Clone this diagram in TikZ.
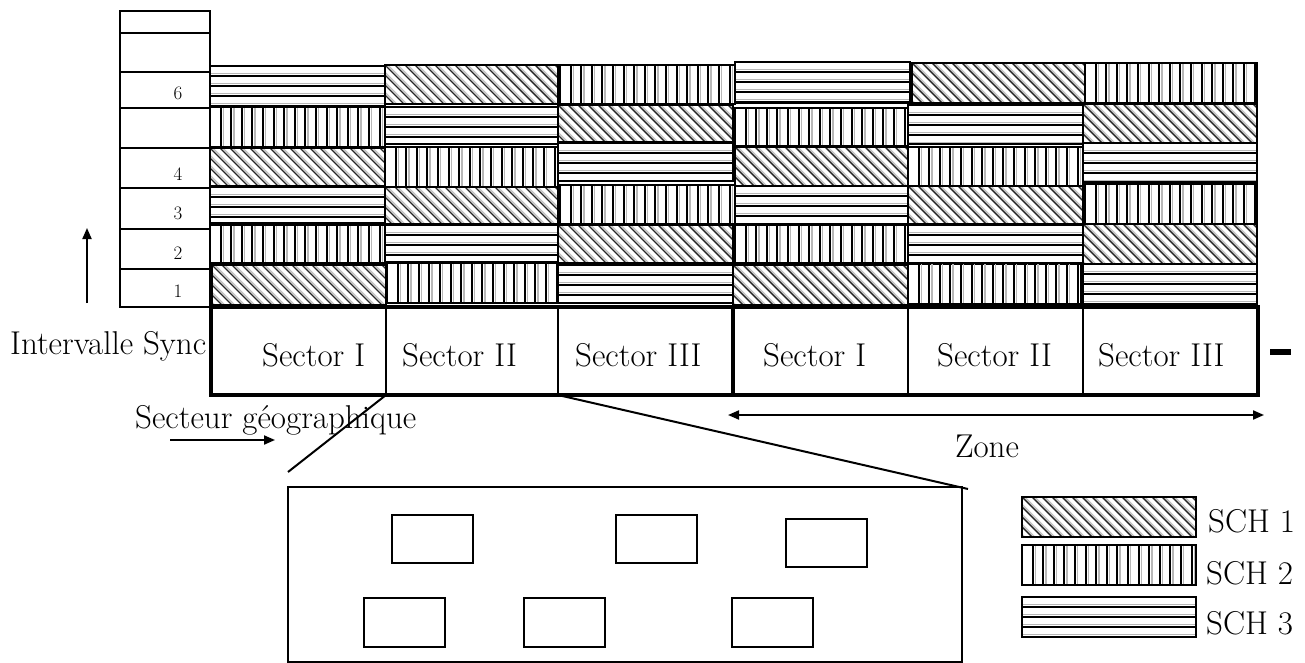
\documentclass[tikz,border=0pt]{standalone}
\usepackage{fontspec}
\usetikzlibrary{arrows.meta}
\tikzset{
  cellb/.style={draw=black,line width=2.4pt},
  pl/.style={line width=2pt,black},
  pg/.style={line width=1.4pt,black!28},
  big/.style={font=\fontsize{33}{40}\selectfont, inner sep=0pt},
  small/.style={font=\fontsize{19}{22}\selectfont, inner sep=0pt},
  arr/.style={line width=2pt,-{Triangle[length=11pt,width=9pt]}},
  darr/.style={line width=2pt,{Triangle[length=11pt,width=9pt]}-{Triangle[length=11pt,width=9pt]}},
  thinl/.style={line width=2pt},
  thickl/.style={line width=3.6pt},
  smallbox/.style={line width=2.4pt},
}
\newcommand\Hc[4]{\begin{scope}\clip (#1,#2) rectangle (#3,#4);
  \foreach \k in {1,...,6}{\draw[pg] (#1,#2+\k*10-2.6) -- (#3,#2+\k*10-2.6);
    \draw[pl] (#1,#2+\k*10) -- (#3,#2+\k*10);}
  \end{scope}\draw[cellb] (#1,#2) rectangle (#3,#4);}
\newcommand\Vc[4]{\begin{scope}\clip (#1,#2) rectangle (#3,#4);
  \foreach \k in {1,...,18}{\draw[pg] (#1+\k*10.6+2.6,#2) -- (#1+\k*10.6+2.6,#4);
    \draw[pl] (#1+\k*10.6,#2) -- (#1+\k*10.6,#4);}
  \end{scope}\draw[cellb] (#1,#2) rectangle (#3,#4);}
\newcommand\Dc[4]{\begin{scope}\clip (#1,#2) rectangle (#3,#4);
  \foreach \k in {0,...,28}{\draw[line width=1.2pt,black!25] (#1-50+\k*10+2.8,#2) -- ++(50,50);
    \draw[line width=1.4pt,black!85] (#1-50+\k*10,#2) -- ++(50,50);}
  \end{scope}\draw[cellb] (#1,#2) rectangle (#3,#4);}
\begin{document}
\begin{tikzpicture}[x=1pt,y=-1pt]
\useasboundingbox (0,0) rectangle (1305,663);
% column 1
\Hc{210}{66}{385}{106}
\Vc{210}{107}{385}{147}
\Dc{210}{148}{385}{186}
\Hc{210}{187}{385}{223}
\Vc{210}{225}{385}{263}
\Dc{212}{265}{386}{305}
% column 2
\Dc{385}{65}{558}{104}
\Hc{385}{107}{558}{144}
\Vc{385}{147}{558}{187}
\Dc{385}{187}{558}{224}
\Hc{385}{225}{558}{262}
\Vc{387}{263}{558}{303}
% column 3
\Vc{560}{65}{735}{104}
\Dc{558}{105}{733}{142}
\Hc{558}{143}{733}{181}
\Vc{560}{185}{735}{224}
\Dc{558}{225}{733}{263}
\Hc{558}{265}{733}{303}
% column 4
\Hc{735}{62}{910}{103}
\Vc{735}{108}{908}{146}
\Dc{735}{147}{908}{186}
\Hc{735}{186}{908}{224}
\Vc{735}{225}{908}{263}
\Dc{733}{265}{908}{305}
% column 5
\Dc{912}{63}{1085}{103}
\Hc{908}{105}{1083}{144}
\Vc{908}{147}{1083}{186}
\Dc{908}{186}{1083}{224}
\Hc{908}{225}{1083}{264}
\Vc{908}{263}{1081}{304}
% column 6
\Vc{1085}{63}{1257}{103}
\Dc{1083}{104}{1257}{143}
\Hc{1083}{143}{1257}{182}
\Vc{1085}{184}{1257}{224}
\Dc{1083}{224}{1257}{264}
\Hc{1083}{264}{1257}{304}
% left column
\draw[thinl] (120,11) rectangle (210,307);
\foreach \yy in {33,72,108,148,188,229,269} \draw[thinl] (120,\yy) -- (210,\yy);
\node[small,anchor=base] (l6) at (178,100) {6};
\node[small,anchor=base] (l4) at (178,180) {4};
\node[small,anchor=base] (l3) at (178,219) {3};
\node[small,anchor=base] (l2) at (178,259) {2};
\node[small,anchor=base] (l1) at (178,297) {1};
% sector row
\foreach \xx in {386,558,908,1083} \draw[thinl] (\xx,307) -- (\xx,395);
\draw[thickl] (211,307) rectangle (733,395);
\draw[thickl] (733,307) rectangle (1258,395);
\node[big,anchor=base west] (s1) at (262,366) {Sector I};
\node[big,anchor=base west] (s2) at (402,366) {Sector II};
\node[big,anchor=base west] (s3) at (575,366) {Sector III};
\node[big,anchor=base west] (s4) at (763,366) {Sector I};
\node[big,anchor=base west] (s5) at (937,366) {Sector II};
\node[big,anchor=base west] (s6) at (1098,366) {Sector III};
\draw[line width=6pt] (1270,352) -- (1291,352);
% labels and arrows
\node[big,anchor=base west] (isync) at (10,354) {Intervalle Sync};
\coordinate (upA) at (87,303);
\coordinate (upB) at (87,228);
\draw[arr] (upA) -- (upB);
\node[big,anchor=base west] (sgeo) at (135,428) {Secteur géographique};
\coordinate (geoA) at (170,440);
\coordinate (geoB) at (275,440);
\draw[arr] (geoA) -- (geoB);
\coordinate (zA) at (728,415);
\coordinate (zB) at (1264,415);
\draw[darr] (zA) -- (zB);
\node[big,anchor=base] (zone) at (987,457) {Zone};
% zoom lines and detail box
\coordinate (j12) at (386,395);
\coordinate (j23) at (558,395);
\coordinate (dL) at (288,472);
\coordinate (dR) at (968,489);
\draw[thinl] (j12) -- (dL);
\draw[thinl] (j23) -- (dR);
\draw[thinl] (288,487) rectangle (962,662);
\draw[smallbox] (392,515) rectangle (473,563);
\draw[smallbox] (616,515) rectangle (697,563);
\draw[smallbox] (786,519) rectangle (867,567);
\draw[smallbox] (364,598) rectangle (445,647);
\draw[smallbox] (524,598) rectangle (605,647);
\draw[smallbox] (732,598) rectangle (813,647);
% legend
\Dc{1022}{497}{1196}{537}
\Vc{1022}{545}{1196}{585}
\Hc{1022}{597}{1196}{637}
\node[big,anchor=base west] (k1) at (1208,532) {SCH 1};
\node[big,anchor=base west] (k2) at (1206,584) {SCH 2};
\node[big,anchor=base west] (k3) at (1206,634) {SCH 3};
\end{tikzpicture}
\end{document}
